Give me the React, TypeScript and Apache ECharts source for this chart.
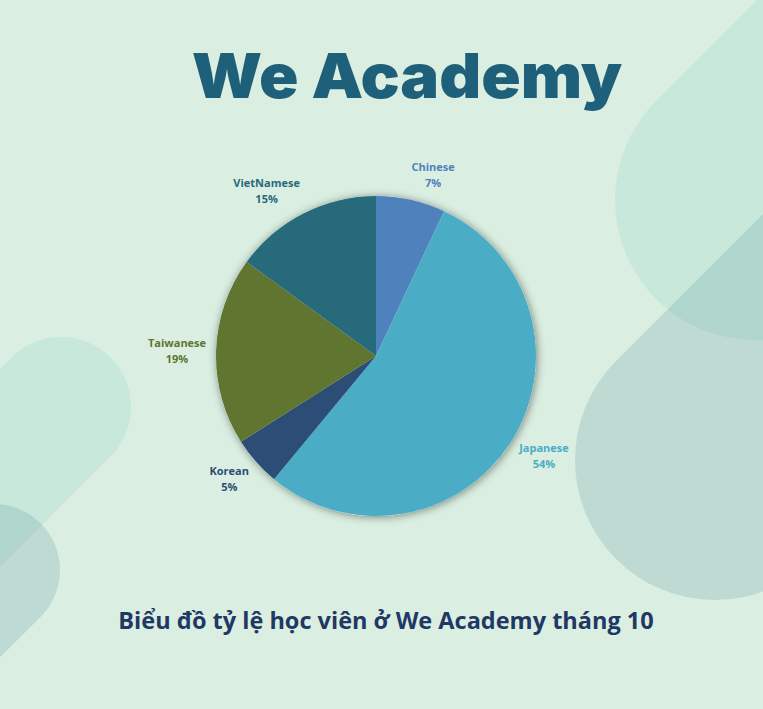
import React, { useEffect, useRef } from "react";
import * as echarts from "echarts";

const categories = ["Chinese", "Japanese", "Korean", "Taiwanese", "VietNamese"];
const values = [7, 54, 5, 19, 15];
const sliceColors = ["#4f81bd", "#4bacc6", "#2c4d75", "#5f7530", "#276a7c"];
const titleText = "We Academy";
const subtitleText = "Biểu đồ tỷ lệ học viên ở We Academy tháng 10";

const BG = "#daeee1";
const CENTER = [376, 356];

function capsule(cx: number, cy: number, r: number, len: number, dir: number, fill: string) {
  return {
    type: "rect",
    x: cx,
    y: cy,
    rotation: Math.PI / 4,
    silent: true,
    z: 0,
    shape: {
      x: dir > 0 ? -r : -(len + r),
      y: -r,
      width: len + 2 * r,
      height: 2 * r,
      r: r,
    },
    style: { fill },
  };
}

export default function App() {
  const ref = useRef<HTMLDivElement>(null);
  useEffect(() => {
    if (!ref.current) return;
    const chart = echarts.init(ref.current, undefined, { renderer: "svg" });
    const total = values.reduce((a, b) => a + b, 0);
    const light = "#c7e8da";
    const dark = "rgba(78,138,156,0.2)";
    chart.setOption({
      animation: false,
      backgroundColor: BG,
      graphic: [
        capsule(755, 200, 140, 500, 1, light),
        capsule(715, 460, 140, 500, 1, dark),
        capsule(61, 407, 70, 400, -1, light),
        capsule(-6, 570, 66, 400, -1, dark),
        {
          type: "text",
          x: 407,
          y: 75,
          z: 5,
          scaleX: 1.05,
          style: {
            text: titleText,
            fontFamily: "Inter",
            fontWeight: 900,
            fontSize: 62,
            fill: "#1e5f7a",
            align: "center",
            verticalAlign: "middle",
          },
        },
        {
          type: "text",
          x: 386,
          y: 620,
          z: 5,
          style: {
            text: subtitleText,
            fontFamily: "Open Sans",
            fontWeight: "bold",
            fontSize: 23.5,
            fill: "#1f3864",
            align: "center",
            verticalAlign: "middle",
          },
        },
      ],
      series: [
        {
          type: "pie",
          silent: true,
          z: 1,
          center: CENTER,
          radius: 160,
          label: { show: false },
          labelLine: { show: false },
          itemStyle: {
            color: BG,
            shadowBlur: 8,
            shadowColor: "rgba(0,0,0,0.45)",
            shadowOffsetX: 1,
            shadowOffsetY: 1,
          },
          data: [{ name: "all", value: total }],
        },
        {
          type: "pie",
          z: 2,
          center: CENTER,
          radius: 160,
          startAngle: 90,
          clockwise: true,
          avoidLabelOverlap: false,
          label: {
            show: true,
            position: "outside",
            formatter: "{b}\n{c}%",
            fontFamily: "Open Sans",
            fontWeight: "bold",
            fontSize: 11,
            lineHeight: 16,
          },
          labelLine: { show: false, length: 12, length2: 0 },
          labelLayout: (params: any) => {
            const r = params.labelRect;
            const mx = r.x + r.width / 2;
            const my = r.y + r.height / 2;
            const dx = mx - CENTER[0];
            const dy = my - CENTER[1];
            return {
              x: mx - 7 * Math.sign(dx),
              y: CENTER[1] + dy * 1.08,
              align: "center",
              verticalAlign: "middle",
            };
          },
          itemStyle: { borderWidth: 0 },
          data: categories.map((name, i) => ({
            name,
            value: values[i],
            itemStyle: { color: sliceColors[i] },
            label: { color: sliceColors[i] },
          })),
        },
      ],
    });
    return () => chart.dispose();
  }, []);
  return (
    <div
      ref={ref}
      style={{ position: "fixed", left: 0, top: 0, width: 763, height: 709 }}
    />
  );
}
